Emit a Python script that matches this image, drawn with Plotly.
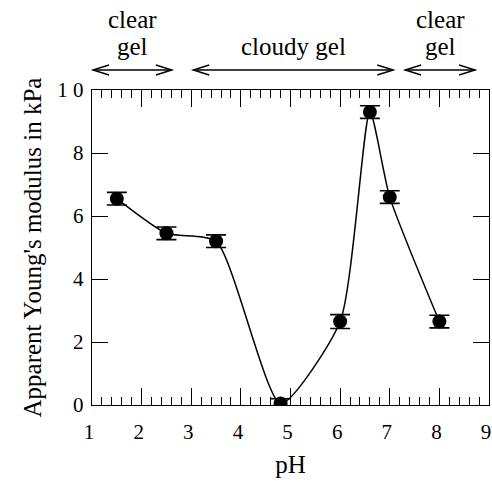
import plotly.graph_objects as go

ph = [1.5, 2.5, 3.5, 4.8, 6.0, 6.6, 7.0, 8.0]
modulus = [6.55, 5.45, 5.2, 0.05, 2.65, 9.3, 6.6, 2.65]
err = [0.2, 0.2, 0.2, 0.15, 0.22, 0.2, 0.2, 0.2]

x_ticks = [1, 2, 3, 4, 5, 6, 7, 8, 9]
y_ticks = [0, 2, 4, 6, 8, 10]
y_ticktext = ["0", "2", "4", "6", "8", "1 0"]

# (upper line, lower line, arrow start pH, arrow end pH)
regions = [("clear", "gel", 1.02, 2.61), ("", "cloudy gel", 3.04, 7.07), ("clear", "gel", 7.31, 8.72)]

FONT = "Liberation Serif"
W, H = 492, 482
ML, MR, MT, MB = 92, 3, 90, 77
PW = W - ML - MR
PH = H - MT - MB
XR = (1, 9)

fig = go.Figure()
fig.add_trace(go.Scatter(
    x=ph, y=modulus, mode="lines",
    line=dict(color="black", width=1.5, shape="spline", smoothing=0.6),
    hoverinfo="skip", showlegend=False))
fig.add_trace(go.Scatter(
    x=ph, y=modulus, mode="markers",
    marker=dict(color="black", size=14),
    error_y=dict(type="data", array=err, color="black", thickness=1.6, width=10),
    showlegend=False))

def xpx(v):
    return (v - XR[0]) / (XR[1] - XR[0])

shapes = []
annotations = []
arrow_y = (MT + PH - 70) / PH  # paper coordinate at pixel y=70
dy = 5 / PH
dx = 16 / PW
for top, bottom, x0, x1 in regions:
    p0, p1 = xpx(x0), xpx(x1)
    shapes.append(dict(type="line", xref="paper", yref="paper", x0=p0, x1=p1, y0=arrow_y, y1=arrow_y,
                       line=dict(color="black", width=1.4)))
    shapes.append(dict(type="path", xref="paper", yref="paper",
                       path=f"M {p0+dx},{arrow_y+dy} L {p0},{arrow_y} L {p0+dx},{arrow_y-dy}",
                       line=dict(color="black", width=1.4)))
    shapes.append(dict(type="path", xref="paper", yref="paper",
                       path=f"M {p1-dx},{arrow_y+dy} L {p1},{arrow_y} L {p1-dx},{arrow_y-dy}",
                       line=dict(color="black", width=1.4)))
    annotations.append(dict(text=bottom, x=(p0 + p1) / 2, y=arrow_y + 8 / PH, xref="paper", yref="paper",
                            xanchor="center", yanchor="bottom", showarrow=False,
                            font=dict(family=FONT, size=25, color="black")))
    if top:
        annotations.append(dict(text=top, x=(p0 + p1) / 2, y=arrow_y + 39 / PH, xref="paper", yref="paper",
                                xanchor="center", yanchor="bottom", showarrow=False, height=20,
                                font=dict(family=FONT, size=25, color="black")))

fig.update_layout(
    template="none",
    width=W, height=H,
    margin=dict(l=ML, r=MR, t=MT, b=MB),
    paper_bgcolor="white", plot_bgcolor="white",
    font=dict(family=FONT, size=21, color="black"),
    shapes=shapes, annotations=annotations,
    xaxis=dict(range=list(XR), tickvals=x_ticks, ticks="inside", ticklen=17, tickwidth=1.2,
               tickfont=dict(family=FONT, size=21, color="black"),
               tickcolor="black", showline=True, linecolor="black", linewidth=1.4, mirror="allticks",
               showgrid=False, zeroline=False, ticklabelstandoff=8, ticklabeloverflow="allow",
               ticklabelshift=-3,
               minor=dict(dtick=0.2, ticks="inside", ticklen=8, tickwidth=1, tickcolor="black", showgrid=False),
               title=dict(text="pH", font=dict(family=FONT, size=25, color="black"), standoff=12)),
    yaxis=dict(range=[0, 10], tickvals=y_ticks, ticktext=y_ticktext, ticks="inside", ticklen=16,
               tickfont=dict(family=FONT, size=21, color="black"),
               tickwidth=1.2, tickcolor="black", showline=True, linecolor="black", linewidth=1.4,
               mirror="allticks", showgrid=False, zeroline=False, ticklabelstandoff=3,
               title=dict(text="Apparent Young's modulus in kPa", font=dict(family=FONT, size=25, color="black"), standoff=8)),
)

fig.write_html("out.html")
